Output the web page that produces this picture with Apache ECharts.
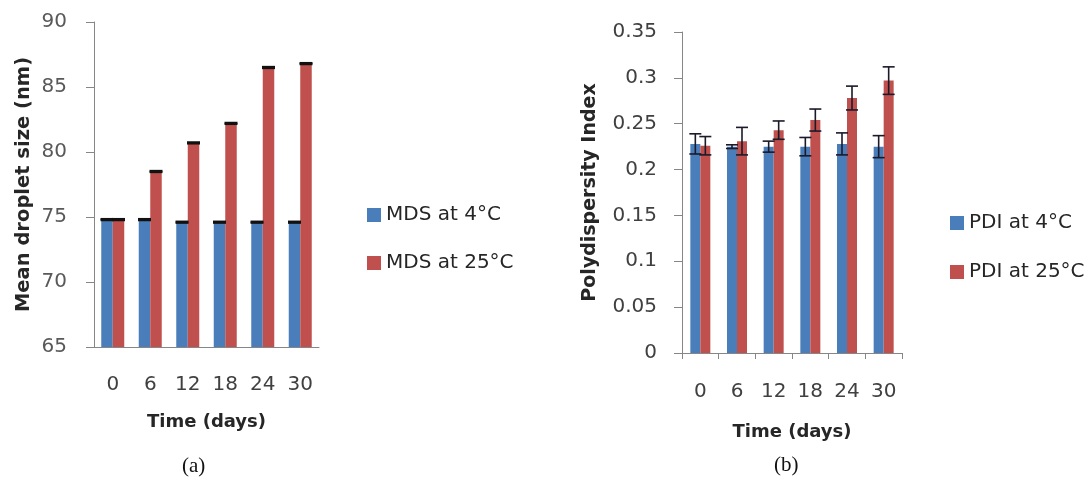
<!DOCTYPE html>
<html>
<head>
<meta charset="utf-8">
<script src="https://cdn.jsdelivr.net/npm/echarts@6/dist/echarts.min.js"></script>
<style>
html,body{margin:0;padding:0;background:#fff;}
#c{width:1088px;height:482px;}
</style>
</head>
<body>
<div id="c"></div>
<script>
// ---- data ----
var days = ['0', '6', '12', '18', '24', '30'];
var mds4 = [74.8, 74.8, 74.6, 74.6, 74.6, 74.6];
var mds25 = [74.8, 78.5, 80.7, 82.2, 86.5, 86.8];
var mds4Err = [0.05, 0.05, 0.05, 0.05, 0.05, 0.05];
var mds25Err = [0.05, 0.05, 0.05, 0.05, 0.05, 0.05];
var pdi4 = [0.228, 0.225, 0.225, 0.225, 0.228, 0.225];
var pdi4Err = [0.011, 0.002, 0.006, 0.010, 0.012, 0.012];
var pdi25 = [0.226, 0.231, 0.243, 0.254, 0.278, 0.297];
var pdi25Err = [0.010, 0.015, 0.010, 0.012, 0.013, 0.015];
var mdsTicks = [65, 90, 5];
var pdiTicks = [0, 0.35, 0.05];

var BLUE = '#4a7ebb', RED = '#c0504d';
var FONT = 'DejaVu Sans';

function errSeries(name, vals, errs, xi, yi, side, barW, capW, color, lw) {
  return {
    name: name + ' err', type: 'custom', xAxisIndex: xi, yAxisIndex: yi, z: 5,
    data: vals.map(function (v, i) { return [i, v, errs[i]]; }),
    renderItem: function (params, api) {
      var i = api.value(0), v = api.value(1), e = api.value(2);
      var c = api.coord([i, v]);
      var x = c[0] + side * barW / 2;
      var hi = api.coord([i, v + e])[1], lo = api.coord([i, v - e])[1];
      var st = { stroke: color, lineWidth: lw };
      return {
        type: 'group', children: [
          { type: 'line', shape: { x1: x, y1: hi, x2: x, y2: lo }, style: st },
          { type: 'line', shape: { x1: x - capW / 2, y1: hi, x2: x + capW / 2, y2: hi }, style: st },
          { type: 'line', shape: { x1: x - capW / 2, y1: lo, x2: x + capW / 2, y2: lo }, style: st }
        ]
      };
    }
  };
}

var axisLine = { show: true, lineStyle: { color: '#868686', width: 1 } };

var chart = echarts.init(document.getElementById('c'), null, { renderer: 'canvas' });
chart.setOption({
  animation: false,
  backgroundColor: '#fff',
  textStyle: { fontFamily: FONT },
  grid: [
    { left: 94, top: 22, width: 225, height: 325 },
    { left: 682, top: 32, width: 220, height: 321 }
  ],
  legend: [
    { orient: 'vertical', left: 362, top: 200, itemWidth: 14, itemHeight: 14, itemGap: 28,
      icon: 'rect', data: ['MDS at 4°C', 'MDS at 25°C'],
      textStyle: { fontFamily: FONT, fontSize: 20, color: '#262626' } },
    { orient: 'vertical', left: 945, top: 208, itemWidth: 14, itemHeight: 14, itemGap: 29,
      icon: 'rect', data: ['PDI at 4°C', 'PDI at 25°C'],
      textStyle: { fontFamily: FONT, fontSize: 20, color: '#262626' } }
  ],
  xAxis: [
    { type: 'category', gridIndex: 0, data: days, axisLine: axisLine,
      axisTick: { show: false },
      axisLabel: { fontFamily: FONT, fontSize: 20, color: '#404040', margin: 28 },
      name: 'Time (days)', nameLocation: 'middle', nameGap: 66,
      nameTextStyle: { fontFamily: FONT, fontSize: 18, fontWeight: 'bold', color: '#262626' } },
    { type: 'category', gridIndex: 1, data: days, axisLine: axisLine,
      axisTick: { show: true, length: 6, lineStyle: { color: '#868686' } },
      axisLabel: { fontFamily: FONT, fontSize: 20, color: '#404040', margin: 29 },
      name: 'Time (days)', nameLocation: 'middle', nameGap: 70,
      nameTextStyle: { fontFamily: FONT, fontSize: 18, fontWeight: 'bold', color: '#262626' } }
  ],
  yAxis: [
    { type: 'value', gridIndex: 0, min: mdsTicks[0], max: mdsTicks[1], interval: mdsTicks[2],
      axisLine: axisLine, splitLine: { show: false },
      axisTick: { show: true, length: 8, lineStyle: { color: '#868686' } },
      axisLabel: { fontFamily: FONT, fontSize: 20, color: '#595959', margin: 27 },
      name: 'Mean droplet size (nm)', nameLocation: 'middle', nameGap: 60,
      nameTextStyle: { fontFamily: FONT, fontSize: 19.5, fontWeight: 'bold', color: '#262626' } },
    { type: 'value', gridIndex: 1, min: pdiTicks[0], max: pdiTicks[1], interval: pdiTicks[2],
      axisLine: axisLine, splitLine: { show: false },
      axisTick: { show: true, length: 8, lineStyle: { color: '#868686' } },
      axisLabel: { fontFamily: FONT, fontSize: 20, color: '#404040', margin: 25 },
      name: 'Polydispersity Index', nameLocation: 'middle', nameGap: 82,
      nameTextStyle: { fontFamily: FONT, fontSize: 19, fontWeight: 'bold', color: '#262626' } }
  ],
  series: [
    { name: 'MDS at 4°C', type: 'bar', xAxisIndex: 0, yAxisIndex: 0, data: mds4,
      barWidth: 11.5, barGap: '0%', itemStyle: { color: BLUE } },
    { name: 'MDS at 25°C', type: 'bar', xAxisIndex: 0, yAxisIndex: 0, data: mds25,
      barWidth: 11.5, barGap: '0%', itemStyle: { color: RED } },
    errSeries('MDS at 4°C', mds4, mds4Err, 0, 0, -1, 11.5, 13, '#111', 2),
    errSeries('MDS at 25°C', mds25, mds25Err, 0, 0, 1, 11.5, 13, '#111', 2),
    { name: 'PDI at 4°C', type: 'bar', xAxisIndex: 1, yAxisIndex: 1, data: pdi4,
      barWidth: 10, barGap: '0%', itemStyle: { color: BLUE } },
    { name: 'PDI at 25°C', type: 'bar', xAxisIndex: 1, yAxisIndex: 1, data: pdi25,
      barWidth: 10, barGap: '0%', itemStyle: { color: RED } },
    errSeries('PDI at 4°C', pdi4, pdi4Err, 1, 1, -1, 10, 12, '#1a1a2a', 1.6),
    errSeries('PDI at 25°C', pdi25, pdi25Err, 1, 1, 1, 10, 12, '#1a1a2a', 1.6)
  ],
  graphic: [
    { type: 'text', left: 182, top: 456, style: { text: '(a)', font: '21px "Liberation Serif"', fill: '#111' } },
    { type: 'text', left: 774, top: 455, style: { text: '(b)', font: '21px "Liberation Serif"', fill: '#111' } }
  ]
});
</script>
</body>
</html>
